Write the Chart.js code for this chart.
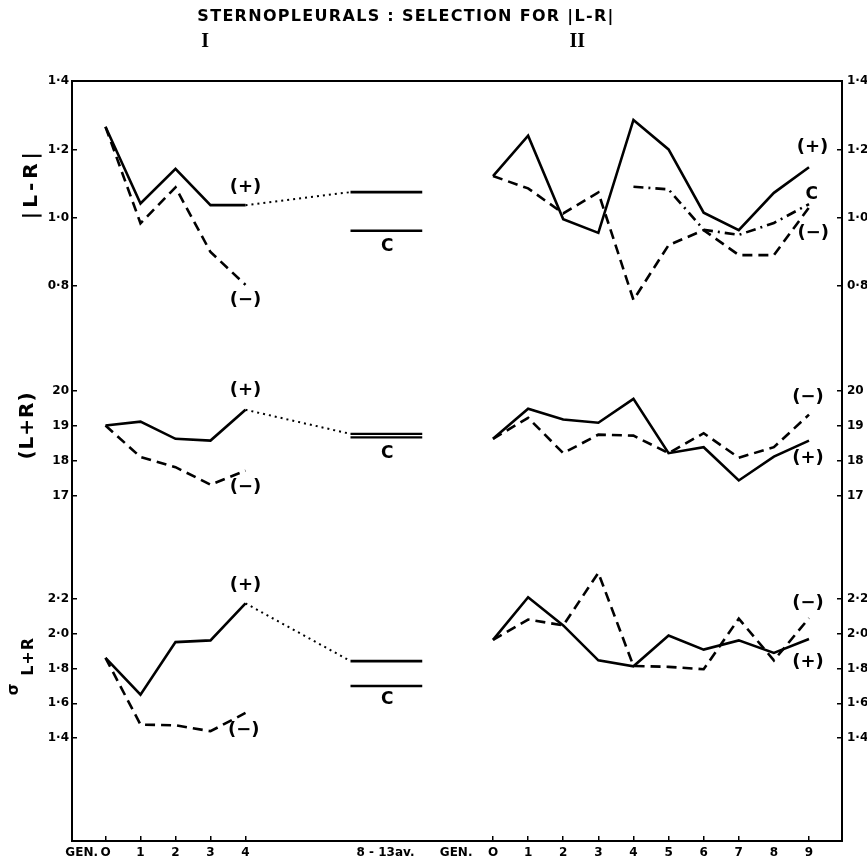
<!DOCTYPE html>
<html>
<head>
<meta charset="utf-8">
<title>Sternopleurals : selection for |L-R|</title>
<script src="https://cdn.jsdelivr.net/npm/chart.js@4.4.1/dist/chart.umd.min.js"></script>
<style>
  html, body { margin: 0; padding: 0; background: #fff; }
  canvas { display: block; }
</style>
</head>
<body>
<canvas id="fig" width="867" height="862"></canvas>
<script>
// generations of line I and line II
const gensI = [0, 1, 2, 3, 4];
const gensII = [0, 1, 2, 3, 4, 5, 6, 7, 8, 9];
const avgSpan = [7, 9.05];          // "8 - 13 av." block of line I
const controlGensII = [4, 5, 6, 7, 8, 9];

// |L-R|
const absPlusI = [1.266, 1.042, 1.143, 1.037, 1.037];
const absMinusI = [1.266, 0.984, 1.089, 0.900, 0.804];
const absPlusAvgI = 1.075;
const absControlI = 0.962;
const absPlusII = [1.122, 1.240, 0.996, 0.956, 1.286, 1.200, 1.015, 0.964, 1.073, 1.148];
const absMinusII = [1.122, 1.086, 1.013, 1.074, 0.760, 0.920, 0.964, 0.891, 0.891, 1.030];
const absControlII = [1.091, 1.083, 0.965, 0.950, 0.985, 1.040];

// (L+R)
const sumPlusI = [19.00, 19.11, 18.62, 18.57, 19.45];
const sumMinusI = [19.00, 18.10, 17.81, 17.31, 17.71];
const sumPlusAvgI = 18.76;
const sumControlI = 18.66;
const sumPlusII = [18.62, 19.48, 19.17, 19.08, 19.76, 18.21, 18.38, 17.43, 18.11, 18.57];
const sumMinusII = [18.62, 19.22, 18.21, 18.74, 18.71, 18.21, 18.78, 18.08, 18.38, 19.31];

// sigma L+R
const sdPlusI = [1.862, 1.650, 1.952, 1.962, 2.175];
const sdMinusI = [1.862, 1.478, 1.474, 1.440, 1.545];
const sdPlusAvgI = 1.843;
const sdControlI = 1.700;
const sdPlusII = [1.965, 2.210, 2.048, 1.847, 1.813, 1.990, 1.909, 1.962, 1.890, 1.970];
const sdMinusII = [1.965, 2.082, 2.048, 2.350, 1.815, 1.810, 1.796, 2.087, 1.847, 2.090];

// tick labels
const tickValuesI = [-0.68, 0, 1, 2, 3, 4, 8];
const tickLabelsI = ['GEN.', 'O', '1', '2', '3', '4', '8 - 13av.'];
const tickValuesII = [-1.05, 0, 1, 2, 3, 4, 5, 6, 7, 8, 9];
const tickLabelsII = ['GEN.', 'O', '1', '2', '3', '4', '5', '6', '7', '8', '9'];
const absTicks = [1.4, 1.2, 1.0, 0.8];
const sumTicks = [20, 19, 18, 17];
const sdTicks = [2.2, 2.0, 1.8, 1.6, 1.4];

const titleText = 'STERNOPLEURALS : SELECTION FOR |L-R|';

// curve labels, in data units of their axes
const curveLabels = [
  { text: '(+)', x: 'xI', y: 'yAbs', at: [4.0, 1.09] },
  { text: '(−)', x: 'xI', y: 'yAbs', at: [4.0, 0.76] },
  { text: 'C', x: 'xI', y: 'yAbs', at: [8.05, 0.915] },
  { text: '(+)', x: 'xII', y: 'yAbs', at: [9.1, 1.207] },
  { text: 'C', x: 'xII', y: 'yAbs', at: [9.08, 1.067] },
  { text: '(−)', x: 'xII', y: 'yAbs', at: [9.12, 0.956] },
  { text: '(+)', x: 'xI', y: 'ySum', at: [4.0, 20.01] },
  { text: '(−)', x: 'xI', y: 'ySum', at: [4.0, 17.24] },
  { text: 'C', x: 'xI', y: 'ySum', at: [8.05, 18.21] },
  { text: '(−)', x: 'xII', y: 'ySum', at: [8.97, 19.81] },
  { text: '(+)', x: 'xII', y: 'ySum', at: [8.97, 18.07] },
  { text: '(+)', x: 'xI', y: 'ySd', at: [4.0, 2.28] },
  { text: '(−)', x: 'xI', y: 'ySd', at: [3.95, 1.447] },
  { text: 'C', x: 'xI', y: 'ySd', at: [8.05, 1.62] },
  { text: '(−)', x: 'xII', y: 'ySd', at: [8.97, 2.177] },
  { text: '(+)', x: 'xII', y: 'ySd', at: [8.97, 1.838] }
];

const SOLID = [];
const DASHED = [10, 6];
const DOTTED = [2, 4];
const DASHDOT = [10, 5, 2, 5];

function line(xId, yId, xs, ys, dash, width) {
  return {
    xAxisID: xId,
    yAxisID: yId,
    data: xs.map((x, i) => ({ x: x, y: ys[i] })),
    borderColor: '#000',
    borderWidth: width || 2.6,
    borderDash: dash,
    pointRadius: 0,
    fill: false,
    tension: 0
  };
}

function fmt(v) {
  if (v >= 10) return String(v);
  return v.toFixed(1).replace('.', '·');
}

function yScale(pos, min, max, values) {
  return {
    type: 'linear',
    axis: 'y',
    position: pos,
    min: min,
    max: max,
    bounds: 'data',
    afterFit: s => { s.width = 0; },
    afterBuildTicks: s => { s.ticks = values.map(v => ({ value: v })); },
    grid: { display: true, drawOnChartArea: false, tickLength: -5, color: '#000', lineWidth: 1.5 },
    border: { display: true, color: '#000', width: 2 },
    ticks: {
      autoSkip: false,
      color: '#000',
      padding: pos === 'left' ? 8 : 10,
      font: { family: 'DejaVu Sans', weight: 'bold', size: 12 },
      callback: v => fmt(v)
    }
  };
}

function xScale(min, max, values, labels) {
  return {
    type: 'linear',
    axis: 'x',
    position: 'bottom',
    min: min,
    max: max,
    bounds: 'data',
    afterFit: s => { s.height = 0; },
    afterBuildTicks: s => { s.ticks = values.map(v => ({ value: v })); },
    grid: {
      display: true,
      drawOnChartArea: false,
      tickLength: -5,
      lineWidth: 1.5,
      color: '#000',
      tickColor: c => (c.tick && (c.tick.value < 0 || c.tick.value === 8)) ? 'rgba(0,0,0,0)' : '#000'
    },
    border: { display: true, color: '#000', width: 2 },
    ticks: {
      autoSkip: false,
      maxRotation: 0,
      minRotation: 0,
      color: '#000',
      padding: 10,
      font: { family: 'DejaVu Sans', weight: 'bold', size: 12 },
      callback: (v, i) => labels[i]
    }
  };
}

// axes are fitted with zero size; give them room outside the frame so their labels are not clipped
const axisRoom = {
  id: 'axisRoom',
  afterLayout(chart) {
    const area = chart.chartArea;
    Object.values(chart.scales).forEach(s => {
      if (s.options.position === 'left') { s.left = 0; s.right = area.left; s.width = area.left; }
      if (s.options.position === 'right') { s.left = area.right; s.right = chart.width; s.width = chart.width - area.right; }
      if (s.options.position === 'bottom') { s.top = area.bottom; s.bottom = chart.height; s.height = chart.height - area.bottom; }
    });
  }
};

const figureText = {
  id: 'figureText',
  afterDraw(chart) {
    const { ctx, chartArea: area, scales } = chart;
    ctx.save();
    ctx.fillStyle = '#000';
    ctx.textAlign = 'center';
    ctx.textBaseline = 'middle';

    // title and line numbers
    ctx.font = 'bold 16px "DejaVu Sans"';
    ctx.letterSpacing = '1.3px';
    ctx.fillText(titleText, 406, 17);
    ctx.letterSpacing = '0px';
    ctx.font = 'bold 20px "Liberation Serif"';
    ctx.fillText('I', scales.xI.getPixelForValue(2.85), 42);
    ctx.fillText('II', scales.xII.getPixelForValue(2.4), 42);

    // panel titles, rotated
    const rot = (text, x, y, font, spacing) => {
      ctx.save();
      ctx.translate(x, y);
      ctx.rotate(-Math.PI / 2);
      ctx.font = font;
      ctx.letterSpacing = spacing || '0px';
      ctx.fillText(text, 0, 0);
      ctx.restore();
    };
    rot('|L-R|', area.left - 40, scales.yAbs.getPixelForValue(1.1), 'bold 20px "DejaVu Sans"', '4px');
    rot('(L+R)', area.left - 44, scales.ySum.getPixelForValue(19.0), 'bold 20px "DejaVu Sans"', '1px');
    const sx = area.left - 43;
    const sy = scales.ySd.getPixelForValue(1.87);
    rot('L+R', sx, sy, 'bold 16px "DejaVu Sans"', '1px');
    ctx.save();
    ctx.translate(sx, sy);
    ctx.rotate(-Math.PI / 2);
    ctx.font = 'bold 15px "DejaVu Sans"';
    ctx.fillText('σ', -33, -15);
    ctx.restore();

    // curve labels
    curveLabels.forEach(l => {
      ctx.font = l.text === 'C' ? 'bold 17px "DejaVu Sans"' : 'bold 18px "DejaVu Sans"';
      ctx.fillText(l.text, scales[l.x].getPixelForValue(l.at[0]), scales[l.y].getPixelForValue(l.at[1]));
    });
    ctx.restore();
  }
};

const datasets = [
  // line I
  line('xI', 'yAbs', gensI, absPlusI, SOLID),
  line('xI', 'yAbs', gensI, absMinusI, DASHED),
  line('xI', 'yAbs', [gensI[4], avgSpan[0]], [absPlusI[4], absPlusAvgI], DOTTED, 2),
  line('xI', 'yAbs', avgSpan, [absPlusAvgI, absPlusAvgI], SOLID),
  line('xI', 'yAbs', avgSpan, [absControlI, absControlI], SOLID),
  line('xI', 'ySum', gensI, sumPlusI, SOLID),
  line('xI', 'ySum', gensI, sumMinusI, DASHED),
  line('xI', 'ySum', [gensI[4], avgSpan[0]], [sumPlusI[4], sumPlusAvgI], DOTTED, 2),
  line('xI', 'ySum', avgSpan, [sumPlusAvgI, sumPlusAvgI], SOLID, 2.2),
  line('xI', 'ySum', avgSpan, [sumControlI, sumControlI], SOLID, 2.2),
  line('xI', 'ySd', gensI, sdPlusI, SOLID),
  line('xI', 'ySd', gensI, sdMinusI, DASHED),
  line('xI', 'ySd', [gensI[4], avgSpan[0]], [sdPlusI[4], sdPlusAvgI], DOTTED, 2),
  line('xI', 'ySd', avgSpan, [sdPlusAvgI, sdPlusAvgI], SOLID),
  line('xI', 'ySd', avgSpan, [sdControlI, sdControlI], SOLID),
  // line II
  line('xII', 'yAbs', gensII, absPlusII, SOLID),
  line('xII', 'yAbs', gensII, absMinusII, DASHED),
  line('xII', 'yAbs', controlGensII, absControlII, DASHDOT),
  line('xII', 'ySum', gensII, sumPlusII, SOLID),
  line('xII', 'ySum', gensII, sumMinusII, DASHED),
  line('xII', 'ySd', gensII, sdPlusII, SOLID),
  line('xII', 'ySd', gensII, sdMinusII, DASHED)
];

new Chart(document.getElementById('fig'), {
  type: 'line',
  data: { datasets: datasets },
  options: {
    responsive: false,
    animation: false,
    layout: { padding: { left: 72, right: 25, top: 81, bottom: 21 } },
    plugins: {
      legend: { display: false },
      tooltip: { enabled: false },
      title: { display: false }
    },
    scales: {
      xI: xScale(-0.957, 21.043, tickValuesI, tickLabelsI),
      xII: xScale(-11.991, 9.94, tickValuesII, tickLabelsII),
      xTop: {
        type: 'linear', axis: 'x', position: 'top', min: 0, max: 1,
        afterFit: s => { s.height = 0; },
        grid: { display: false },
        ticks: { display: false },
        border: { display: true, color: '#000', width: 2 }
      },
      yAbs: yScale('left', -0.8222, 1.4, absTicks),
      ySum: yScale('left', 7.129, 28.843, sumTicks),
      ySd: yScale('left', 0.809, 5.177, sdTicks),
      yAbsR: yScale('right', -0.8222, 1.4, absTicks),
      ySumR: yScale('right', 7.129, 28.843, sumTicks),
      ySdR: yScale('right', 0.809, 5.177, sdTicks)
    }
  },
  plugins: [axisRoom, figureText]
});
</script>
</body>
</html>
